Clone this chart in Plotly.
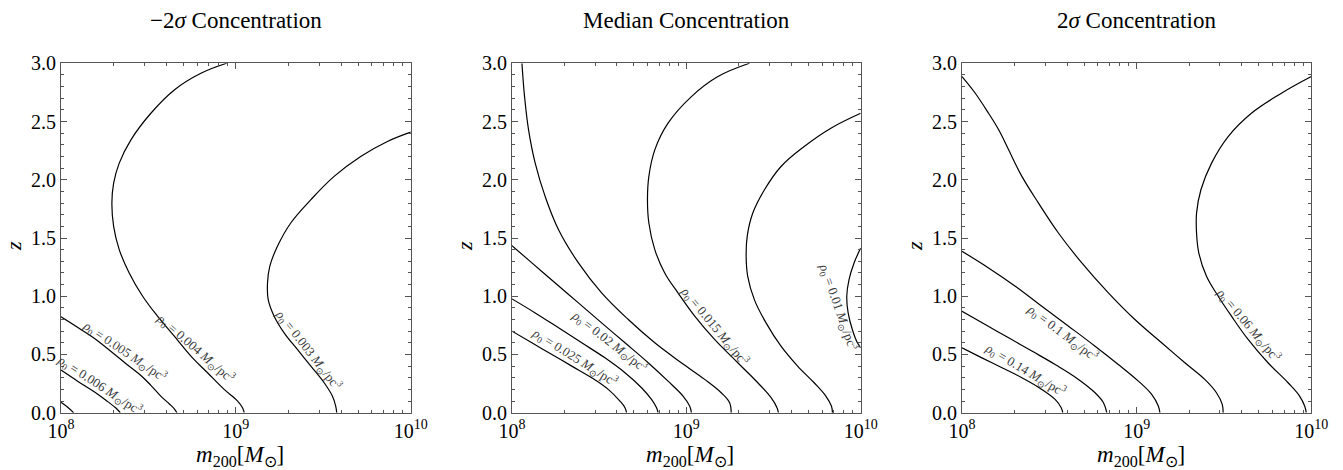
import math
import plotly.graph_objects as go

# ---------------- data (log10 m200, z) ----------------
# Panel 1: -2 sigma concentration
lo_007_logm = [8.0, 8.04, 8.072]
lo_007_z = [0.09, 0.045, 0.0]
lo_006_logm = [8.0, 8.095, 8.19, 8.267, 8.314, 8.339]
lo_006_z = [0.366, 0.271, 0.18, 0.095, 0.04, 0.0]
lo_005_logm = [8.0, 8.114, 8.19, 8.381, 8.457, 8.514, 8.572, 8.62, 8.648, 8.663]
lo_005_z = [0.823, 0.714, 0.639, 0.41, 0.32, 0.235, 0.14, 0.075, 0.033, 0.0]
lo_004_logm = [8.947, 8.80, 8.648, 8.514, 8.40, 8.333, 8.301, 8.291, 8.301, 8.333,
               8.39, 8.467, 8.552, 8.648, 8.743, 8.838, 8.933, 9.01, 9.038, 9.048]
lo_004_z = [3.0, 2.914, 2.771, 2.571, 2.343, 2.143, 1.971, 1.8, 1.6, 1.4,
            1.2, 1.0, 0.829, 0.657, 0.486, 0.343, 0.2, 0.1, 0.043, 0.0]
lo_003_logm = [10.0, 9.867, 9.714, 9.562, 9.429, 9.314, 9.238, 9.194, 9.181, 9.185,
               9.219, 9.276, 9.352, 9.429, 9.505, 9.552, 9.571, 9.577]
lo_003_z = [2.409, 2.329, 2.2, 2.029, 1.829, 1.629, 1.429, 1.257, 1.114, 0.971,
            0.829, 0.686, 0.543, 0.4, 0.257, 0.143, 0.057, 0.0]

# Panel 2: median concentration
md_025_logm = [8.0, 8.114, 8.229, 8.343, 8.457, 8.552, 8.619, 8.648, 8.657]
md_025_z = [0.70, 0.60, 0.50, 0.40, 0.30, 0.20, 0.10, 0.043, 0.0]
md_b_logm = [8.0, 8.133, 8.267, 8.4, 8.533, 8.648, 8.743, 8.8, 8.829, 8.838]
md_b_z = [0.977, 0.857, 0.729, 0.6, 0.471, 0.343, 0.214, 0.114, 0.043, 0.0]
md_020_logm = [8.0, 8.114, 8.248, 8.381, 8.514, 8.648, 8.781, 8.895, 8.981, 9.019, 9.029]
md_020_z = [1.434, 1.286, 1.114, 0.943, 0.771, 0.6, 0.429, 0.271, 0.143, 0.057, 0.0]
md_d_logm = [8.057, 8.072, 8.095, 8.133, 8.19, 8.267, 8.381, 8.514, 8.667, 8.819,
             8.971, 9.105, 9.2, 9.248, 9.257]
md_d_z = [3.0, 2.714, 2.429, 2.143, 1.857, 1.571, 1.286, 1.029, 0.8, 0.6,
          0.429, 0.286, 0.171, 0.086, 0.0]
md_015_logm = [9.362, 9.181, 9.029, 8.895, 8.819, 8.785, 8.777, 8.785, 8.819, 8.876,
               8.952, 9.048, 9.162, 9.295, 9.41, 9.486, 9.52, 9.528]
md_015_z = [3.0, 2.886, 2.714, 2.486, 2.257, 2.029, 1.829, 1.629, 1.4, 1.2,
            1.029, 0.829, 0.629, 0.429, 0.257, 0.129, 0.043, 0.0]
md_f_logm = [10.0, 9.829, 9.676, 9.543, 9.448, 9.381, 9.349, 9.343, 9.352, 9.39,
             9.457, 9.543, 9.638, 9.733, 9.8, 9.832, 9.838]
md_f_z = [2.571, 2.443, 2.286, 2.114, 1.914, 1.714, 1.514, 1.343, 1.171, 0.971,
          0.771, 0.571, 0.4, 0.257, 0.143, 0.057, 0.0]
md_010_logm = [10.0, 9.962, 9.933, 9.92, 9.928, 9.952, 9.981, 10.0]
md_010_z = [1.414, 1.286, 1.143, 1.0, 0.857, 0.714, 0.6, 0.557]

# Panel 3: +2 sigma concentration
hi_014_logm = [8.0, 8.114, 8.229, 8.343, 8.457, 8.533, 8.568, 8.577]
hi_014_z = [0.557, 0.471, 0.386, 0.30, 0.20, 0.114, 0.043, 0.0]
hi_b_logm = [8.0, 8.133, 8.267, 8.4, 8.533, 8.667, 8.762, 8.81, 8.829]
hi_b_z = [0.871, 0.757, 0.643, 0.529, 0.414, 0.286, 0.171, 0.086, 0.0]
hi_010_logm = [8.0, 8.152, 8.305, 8.457, 8.61, 8.762, 8.895, 9.01, 9.086, 9.124, 9.133]
hi_010_z = [1.386, 1.243, 1.086, 0.914, 0.743, 0.571, 0.414, 0.271, 0.157, 0.057, 0.0]
hi_d_logm = [8.0, 8.076, 8.152, 8.21, 8.267, 8.343, 8.438, 8.552, 8.686, 8.838,
             8.99, 9.143, 9.276, 9.39, 9.457, 9.49, 9.495]
hi_d_z = [2.886, 2.743, 2.571, 2.429, 2.257, 2.029, 1.8, 1.543, 1.286, 1.029,
          0.8, 0.6, 0.429, 0.286, 0.171, 0.071, 0.0]
hi_006_logm = [10.0, 9.829, 9.657, 9.524, 9.429, 9.368, 9.343, 9.343, 9.356, 9.4,
               9.467, 9.543, 9.638, 9.752, 9.867, 9.933, 9.962, 9.971]
hi_006_z = [2.886, 2.743, 2.571, 2.371, 2.143, 1.914, 1.714, 1.543, 1.371, 1.171,
            1.0, 0.829, 0.629, 0.429, 0.257, 0.143, 0.057, 0.0]

panel_titles = ["\u22122<i>\u03c3</i> Concentration", "Median Concentration",
                "2<i>\u03c3</i> Concentration"]

# contour label values (rho_0 in Msun/pc^3)
lo_label_values = ["0.006", "0.005", "0.004", "0.003"]
md_label_values = ["0.025", "0.02", "0.015", "0.01"]
hi_label_values = ["0.14", "0.1", "0.06"]

x_tick_exps = [8, 9, 10]
y_ticks = [0.0, 0.5, 1.0, 1.5, 2.0, 2.5, 3.0]

# ---------------- label placement: (curve index, label centre log m, z, angle) ----------------
lo_label_pos = [(1, 8.238, 0.271, 33), (2, 8.353, 0.51, 34), (3, 8.781, 0.571, 40.8), (4, 9.419, 0.543, 52)]
md_label_pos = [(0, 8.352, 0.457, 32), (2, 8.590, 0.671, 37.7), (4, 9.147, 0.723, 50.3), (6, 9.876, 0.909, 70.6)]
hi_label_pos = [(0, 8.357, 0.343, 30.8), (2, 8.605, 0.737, 37), (4, 9.638, 0.751, 50)]

panels = [
    [(lo_007_logm, lo_007_z), (lo_006_logm, lo_006_z), (lo_005_logm, lo_005_z),
     (lo_004_logm, lo_004_z), (lo_003_logm, lo_003_z)],
    [(md_025_logm, md_025_z), (md_b_logm, md_b_z), (md_020_logm, md_020_z),
     (md_d_logm, md_d_z), (md_015_logm, md_015_z), (md_f_logm, md_f_z),
     (md_010_logm, md_010_z)],
    [(hi_014_logm, hi_014_z), (hi_b_logm, hi_b_z), (hi_010_logm, hi_010_z),
     (hi_d_logm, hi_d_z), (hi_006_logm, hi_006_z)],
]
labels = [(lo_label_values, lo_label_pos), (md_label_values, md_label_pos),
          (hi_label_values, hi_label_pos)]

# the page body has an 8px margin: lay the figure out in page pixels minus that offset
OFF = 8
W, H = 1343 - OFF, 470 - OFF


def px_x(p):
    return (p - OFF) / W


def px_y(p):
    return 1 - (p - OFF) / H


x_doms = [(px_x(61), px_x(410.7)), (px_x(512), px_x(860.7)), (px_x(962), px_x(1311.3))]
y_dom = (px_y(412.7), px_y(63.3))
SX = 349.7 / 2.0   # px per decade
SY = 349.4 / 3.0   # px per unit z
FONT = "Liberation Serif"
LABEL_OFFSET = 9.0


def snap(lm, zz, lx, lz):
    """nearest point of the polyline to the label centre, in pixel space"""
    P = [(a * SX, b * SY) for a, b in zip(lm, zz)]
    q = (lx * SX, lz * SY)
    best = None
    for (x1, y1), (x2, y2) in zip(P[:-1], P[1:]):
        dx, dy = x2 - x1, y2 - y1
        L2 = dx * dx + dy * dy
        t = max(0.0, min(1.0, ((q[0] - x1) * dx + (q[1] - y1) * dy) / L2)) if L2 else 0.0
        px, py = x1 + t * dx, y1 + t * dy
        d = math.hypot(q[0] - px, q[1] - py)
        if best is None or d < best[0]:
            best = (d, px, py)
    d, px, py = best
    ux, uy = (q[0] - px) / d, (q[1] - py) / d
    return px / SX, py / SY, ux, uy


fig = go.Figure()
annotations = []
for i, (curves, (vals, poss)) in enumerate(zip(panels, labels)):
    xa = "x" if i == 0 else f"x{i+1}"
    ya = "y" if i == 0 else f"y{i+1}"
    for lm, zz in curves:
        fig.add_trace(go.Scatter(
            x=[10 ** v for v in lm], y=zz, mode="lines",
            line=dict(color="black", width=1.2, shape="spline", smoothing=1.1),
            xaxis=xa, yaxis=ya, showlegend=False, hoverinfo="skip"))
    for v, (ci, lx, lz, ang) in zip(vals, poss):
        ax_, az_, ux, uy = snap(curves[ci][0], curves[ci][1], lx, lz)
        annotations.append(dict(
            x=ax_, y=az_, xref=xa, yref=ya, showarrow=False,
            textangle=ang, xshift=LABEL_OFFSET * ux, yshift=LABEL_OFFSET * uy,
            text=f"<i>\u03c1</i><sub>0</sub> = {v} <i>M</i><sub>\u2299</sub>/pc<sup>3</sup>",
            font=dict(family=FONT, size=13, color="#3a3a3a")))
    cx = (x_doms[i][0] + x_doms[i][1]) / 2
    annotations.append(dict(x=cx, y=px_y(20), xref="paper", yref="paper",
                            showarrow=False, text=panel_titles[i],
                            font=dict(family=FONT, size=23, color="black"),
                            xanchor="center", yanchor="middle"))
    annotations.append(dict(x=cx + 4 / W, y=px_y(456), xref="paper", yref="paper",
                            showarrow=False,
                            text="<i>m</i><sub>200</sub>[<i>M</i><sub>\u2299</sub>]",
                            font=dict(family=FONT, size=23, color="black"),
                            xanchor="center", yanchor="middle"))
    annotations.append(dict(x=x_doms[i][0] - 48 / W, y=px_y(246),
                            xref="paper", yref="paper", showarrow=False,
                            text="<i>z</i>", textangle=-90,
                            font=dict(family=FONT, size=22, color="black"),
                            xanchor="center", yanchor="middle"))

    axis_common = dict(showgrid=False, zeroline=False, showline=True, linecolor="#555",
                       linewidth=1, mirror="ticks", ticks="inside", tickcolor="#555",
                       automargin=False,
                       tickfont=dict(family=FONT, size=20, color="black"))
    xkey = "xaxis" if i == 0 else f"xaxis{i+1}"
    ykey = "yaxis" if i == 0 else f"yaxis{i+1}"
    fig.update_layout(**{
        xkey: dict(axis_common, type="log", range=[8, 10], domain=list(x_doms[i]),
                   anchor=ya, tickvals=[10 ** e for e in x_tick_exps],
                   ticktext=[f"10<sup>{e}</sup>" for e in x_tick_exps], ticklen=6,
                   minor=dict(ticks="inside", ticklen=3, tickcolor="#555", dtick="D1",
                              showgrid=False)),
        ykey: dict(axis_common, range=[0, 3], domain=list(y_dom), anchor=xa,
                   tickvals=y_ticks, ticktext=[f"{t:.1f}" for t in y_ticks], ticklen=6,
                   minor=dict(ticks="inside", ticklen=3, tickcolor="#555", dtick=0.1,
                              showgrid=False)),
    })

fig.update_layout(width=W, height=H, margin=dict(l=0, r=0, t=0, b=0, pad=0),
                  autosize=False, paper_bgcolor="white", plot_bgcolor="white",
                  annotations=annotations)
fig.write_html("out.html")
